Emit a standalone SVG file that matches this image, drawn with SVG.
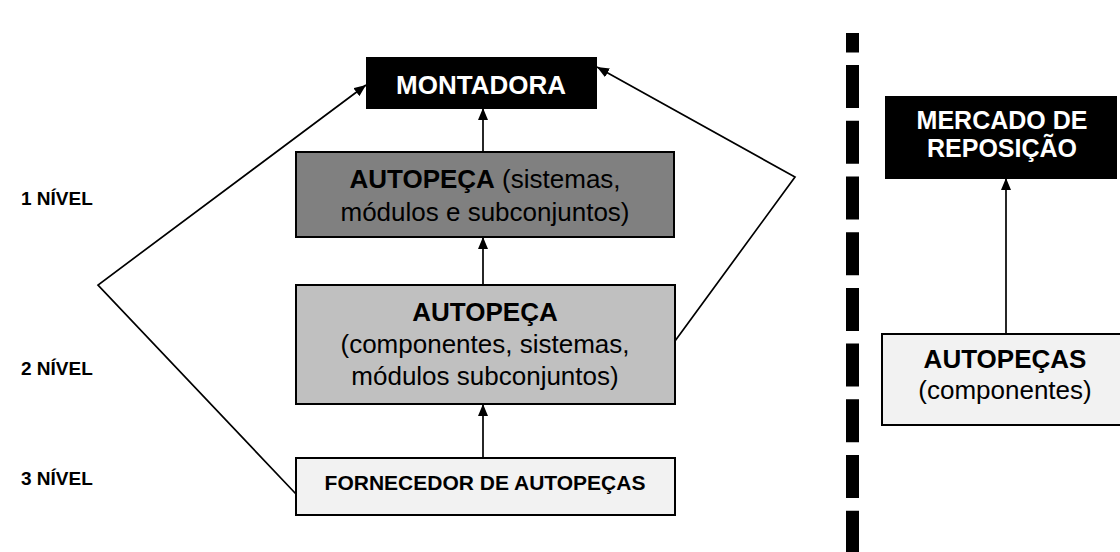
<svg xmlns="http://www.w3.org/2000/svg" width="1120" height="552" viewBox="0 0 1120 552">
<style>
text{font-family:"Liberation Sans",Arial,sans-serif;text-anchor:middle;fill:#000}
.b{font-weight:bold}
.w{fill:#fff}
.box{stroke:#000;stroke-width:2}
.lvl{font-size:19px;font-weight:bold;text-anchor:start}
.big{font-size:26px}
.conn{fill:none;stroke:#000;stroke-width:1.7}
</style>
<defs>
<marker id="ah" viewBox="0 0 12 10" refX="12" refY="5" markerWidth="12" markerHeight="10" markerUnits="userSpaceOnUse" orient="auto">
<path d="M0,0 L12,5 L0,10 Z" fill="#000"/>
</marker>
</defs>
<rect width="1120" height="552" fill="#fff"/>
<g id="levels">
<text class="lvl" x="21" y="205">1 NÍVEL</text>
<text class="lvl" x="21" y="375">2 NÍVEL</text>
<text class="lvl" x="21" y="485">3 NÍVEL</text>
</g>
<g id="divider">
<line x1="852.5" y1="33" x2="852.5" y2="552" stroke="#000" stroke-width="13" stroke-dasharray="43 12.7" stroke-dashoffset="23.6"/>
</g>
<g id="montadora">
<rect class="box" x="367" y="58" width="229" height="50" fill="#000"/>
<text class="b w big" x="481" y="94">MONTADORA</text>
</g>
<g id="autopeca1">
<rect class="box" x="296" y="152" width="378" height="85" fill="#808080"/>
<text class="big" x="485" y="188"><tspan class="b">AUTOPEÇA</tspan> (sistemas,</text>
<text class="big" x="485" y="221">módulos e subconjuntos)</text>
</g>
<g id="autopeca2">
<rect class="box" x="296" y="285" width="379" height="119" fill="#c0c0c0"/>
<text class="big b" x="485" y="321">AUTOPEÇA</text>
<text class="big" x="485" y="353">(componentes, sistemas,</text>
<text class="big" x="485" y="385">módulos subconjuntos)</text>
</g>
<g id="fornecedor">
<rect class="box" x="296" y="458" width="379" height="57" fill="#f2f2f2"/>
<text class="b" style="font-size:21px" x="485" y="490">FORNECEDOR DE AUTOPEÇAS</text>
</g>
<g id="mercado">
<rect class="box" x="886" y="97" width="230" height="81" fill="#000"/>
<text class="b w" style="font-size:25px" x="1002" y="129">MERCADO DE</text>
<text class="b w" style="font-size:25px" x="1002" y="157">REPOSIÇÃO</text>
</g>
<g id="autopecas">
<rect class="box" x="882" y="334" width="240" height="91" fill="#f2f2f2"/>
<text class="b big" x="1005" y="368">AUTOPEÇAS</text>
<text class="big" x="1005" y="399">(componentes)</text>
</g>
<g id="connectors">
<line class="conn" x1="483" y1="152" x2="483" y2="108" marker-end="url(#ah)"/>
<line class="conn" x1="483" y1="285" x2="483" y2="237" marker-end="url(#ah)"/>
<line class="conn" x1="483" y1="458" x2="483" y2="404" marker-end="url(#ah)"/>
<polyline class="conn" points="296,494 98,285 366,85" marker-end="url(#ah)"/>
<polyline class="conn" points="675,341 795,177 597,67" marker-end="url(#ah)"/>
<line class="conn" x1="1006" y1="334" x2="1006" y2="178" marker-end="url(#ah)"/>
</g>
</svg>
